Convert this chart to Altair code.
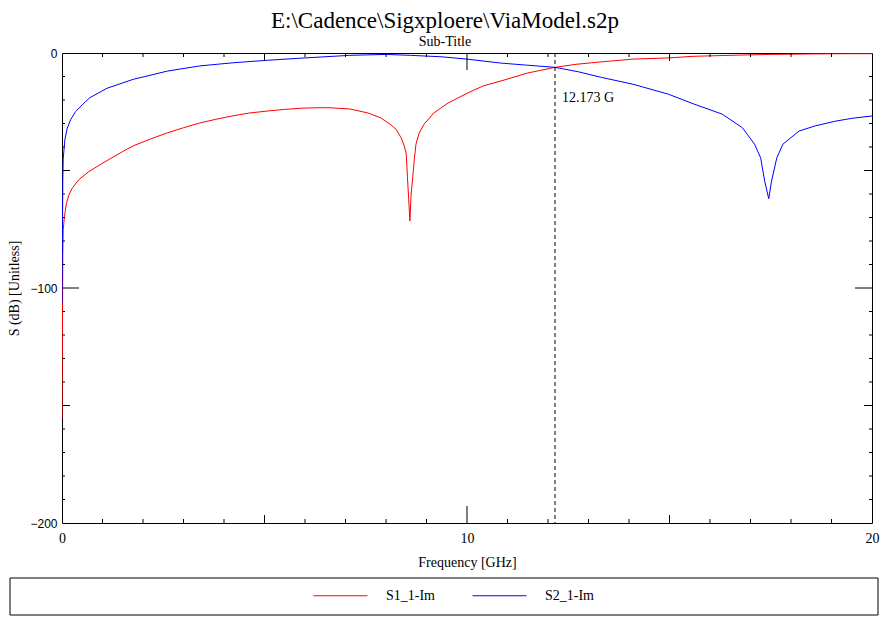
import altair as alt
import pandas as pd

# ---- data ----
series_names = ["S1_1-Im", "S2_1-Im"]
series_colors = ["#ff0000", "#0000ff"]

freq_s11 = [0, 0.02, 0.03, 0.06, 0.11, 0.17, 0.25, 0.41, 0.66, 0.99, 1.49, 1.76, 2.2, 2.6, 3.0,
            3.4, 3.8, 4.2, 4.6, 5.07, 5.5, 5.9, 6.3, 6.6, 7.1, 7.55, 7.87, 8.1, 8.25, 8.37,
            8.45, 8.5, 8.53, 8.56, 8.59, 8.62, 8.66, 8.7, 8.74, 8.82, 8.94, 9.18, 9.53, 10.02,
            10.4, 10.84, 11.5, 12.173, 12.7, 13.3, 14.1, 14.97, 15.6, 16.7, 17.5, 18.5, 19.3, 20]
db_s11 = [-155.5, -85, -75.3, -69.6, -64, -60.4, -57.6, -54, -50.5, -47, -42, -39.5, -36.5, -34, -31.8,
          -29.8, -28.2, -26.8, -25.6, -24.7, -24, -23.5, -23.3, -23.3, -23.8, -25.5, -27.6, -30.3, -32.5, -36,
          -39.5, -43, -53, -62, -71.5, -60, -53, -45, -38.8, -34, -30.3, -25.5, -21.3, -17,
          -14, -11.9, -8.5, -6.1, -4.8, -3.8, -2.6, -2.1, -1.4, -0.9, -0.6, -0.4, -0.3, -0.3]

freq_s21 = [0, 0.02, 0.03, 0.07, 0.13, 0.21, 0.33, 0.58, 0.69, 1.11, 1.76, 2.6, 3.4, 4.2, 5.07,
            5.9, 7.1, 8.0, 8.6, 9.36, 10.0, 10.84, 11.5, 12.173, 12.75, 13.3, 14.1, 14.97, 15.6,
            16.3, 16.8, 17.1, 17.25, 17.35, 17.45, 17.52, 17.65, 17.8, 18.2, 18.6, 19.1, 19.5, 20]
db_s21 = [-106.5, -54, -45, -37, -32, -28.5, -25, -20.7, -19, -15, -11.2, -7.7, -5.5, -4.2, -3.1,
          -2.2, -1.0, -0.6, -1.0, -1.6, -2.6, -4.3, -5.2, -6.1, -8, -10.3, -13.3, -17.5, -21.7,
          -26, -31.8, -38.8, -44.6, -54.5, -62, -54.5, -44.6, -38.8, -33.2, -31, -29, -27.8, -26.8]

marker_freq = [12.173]
marker_label = ["12.173 G"]

x_label_values = [0, 10, 20]
y_label_values = [0, -100, -200]
x_minor = [1, 2, 3, 4, 6, 7, 8, 9, 11, 12, 13, 14, 16, 17, 18, 19]
x_mid = [5, 15]
x_major = [10]
y_minor = [-10, -20, -30, -40, -60, -70, -80, -90, -110, -120, -130, -140,
           -160, -170, -180, -190]
y_mid = [-50, -150]
y_major = [-100]

W, H = 810, 470
SERIF = "Liberation Serif"
SANS = "Liberation Sans"

curves = pd.concat([
    pd.DataFrame({"freq": freq_s11, "db": db_s11, "series": series_names[0]}),
    pd.DataFrame({"freq": freq_s21, "db": db_s21, "series": series_names[1]}),
], ignore_index=True)

xscale = alt.Scale(domain=[0, 20], nice=False, zero=False)
yscale = alt.Scale(domain=[-200, 0], nice=False, zero=False)

x_axis = alt.Axis(
    values=x_label_values, ticks=False, domain=False, grid=False, labelFlush=False,
    labelFont=SERIF, labelFontSize=14, labelColor="black", labelPadding=8,
    title="Frequency [GHz]", titleFont=SERIF, titleFontSize=14, titleFontWeight="normal",
    titleColor="black", titleY=43, titleBaseline="alphabetic")
y_axis = alt.Axis(
    values=y_label_values, ticks=False, domain=False, grid=False, labelFlush=False,
    labelFont=SANS, labelFontSize=12, labelColor="black", labelPadding=5,
    title="S (dB) [Unitless]", titleFont=SERIF, titleFontSize=14, titleFontWeight="normal",
    titleColor="black", titleX=-44, titleY=H / 2, titleAngle=270, titleAlign="center",
    titleBaseline="alphabetic")

lines = alt.Chart(curves).mark_line(strokeWidth=1, clip=True).encode(
    x=alt.X("freq:Q", scale=xscale, axis=x_axis),
    y=alt.Y("db:Q", scale=yscale, axis=y_axis),
    color=alt.Color("series:N", scale=alt.Scale(domain=series_names, range=series_colors),
                    legend=alt.Legend(orient="none", legendX=251, legendY=515, direction="horizontal",
                                      title=None, symbolType="stroke", symbolSize=2916,
                                      symbolStrokeWidth=1, labelFont=SERIF, labelFontSize=14,
                                      labelColor="black", labelOffset=18, columnPadding=35,
                                      padding=0)),
)

marker_df = pd.DataFrame({"freq": marker_freq, "label": marker_label})
marker_rule = alt.Chart(marker_df).mark_rule(color="black", strokeWidth=1, strokeDash=[4, 3]).encode(
    x=alt.X("freq:Q", scale=xscale, axis=x_axis))
marker_text = alt.Chart(marker_df).mark_text(
    align="left", baseline="alphabetic", dx=7, font=SERIF, fontSize=14, color="black").encode(
    x=alt.X("freq:Q", scale=xscale, axis=x_axis), y=alt.value(49), text="label:N")

tick_layers = []
for vals, L in [(x_minor, 4), (x_mid, 8), (x_major, 17)]:
    d = pd.DataFrame({"freq": vals})
    tick_layers.append(alt.Chart(d).mark_rule(color="black", strokeWidth=1).encode(
        x=alt.X("freq:Q", scale=xscale, axis=x_axis), y=alt.value(H - L), y2=alt.value(H)))
    tick_layers.append(alt.Chart(d).mark_rule(color="black", strokeWidth=1).encode(
        x=alt.X("freq:Q", scale=xscale, axis=x_axis), y=alt.value(0), y2=alt.value(L)))
for vals, L in [(y_minor, 3), (y_mid, 8), (y_major, 17)]:
    d = pd.DataFrame({"db": vals})
    tick_layers.append(alt.Chart(d).mark_rule(color="black", strokeWidth=1).encode(
        y=alt.Y("db:Q", scale=yscale, axis=y_axis), x=alt.value(0), x2=alt.value(L)))
    tick_layers.append(alt.Chart(d).mark_rule(color="black", strokeWidth=1).encode(
        y=alt.Y("db:Q", scale=yscale, axis=y_axis), x=alt.value(W - L), x2=alt.value(W)))

legend_box = alt.Chart(pd.DataFrame({"k": [0]})).mark_rect(
    fill="white", stroke="black", strokeWidth=1).encode(
    x=alt.value(-52), x2=alt.value(816), y=alt.value(525), y2=alt.value(562))

chart = alt.layer(lines, marker_rule, marker_text, *tick_layers, legend_box).properties(
    width=W, height=H,
    title=alt.TitleParams(
        text="E:\\Cadence\\Sigxploere\\ViaModel.s2p", subtitle="Sub-Title",
        font=SERIF, fontSize=23, fontWeight="normal", color="black",
        subtitleFont=SERIF, subtitleFontSize=14, subtitleColor="black",
        anchor="middle", frame="group", dx=-22, dy=7, offset=5, subtitlePadding=2),
    padding={"left": 54, "top": 45, "right": 9, "bottom": 93},
    autosize=alt.AutoSizeParams(type="none"),
    background="white",
).configure_view(stroke="black", strokeWidth=1)

chart.save("out.html", embed_options={"renderer": "svg", "actions": False})
